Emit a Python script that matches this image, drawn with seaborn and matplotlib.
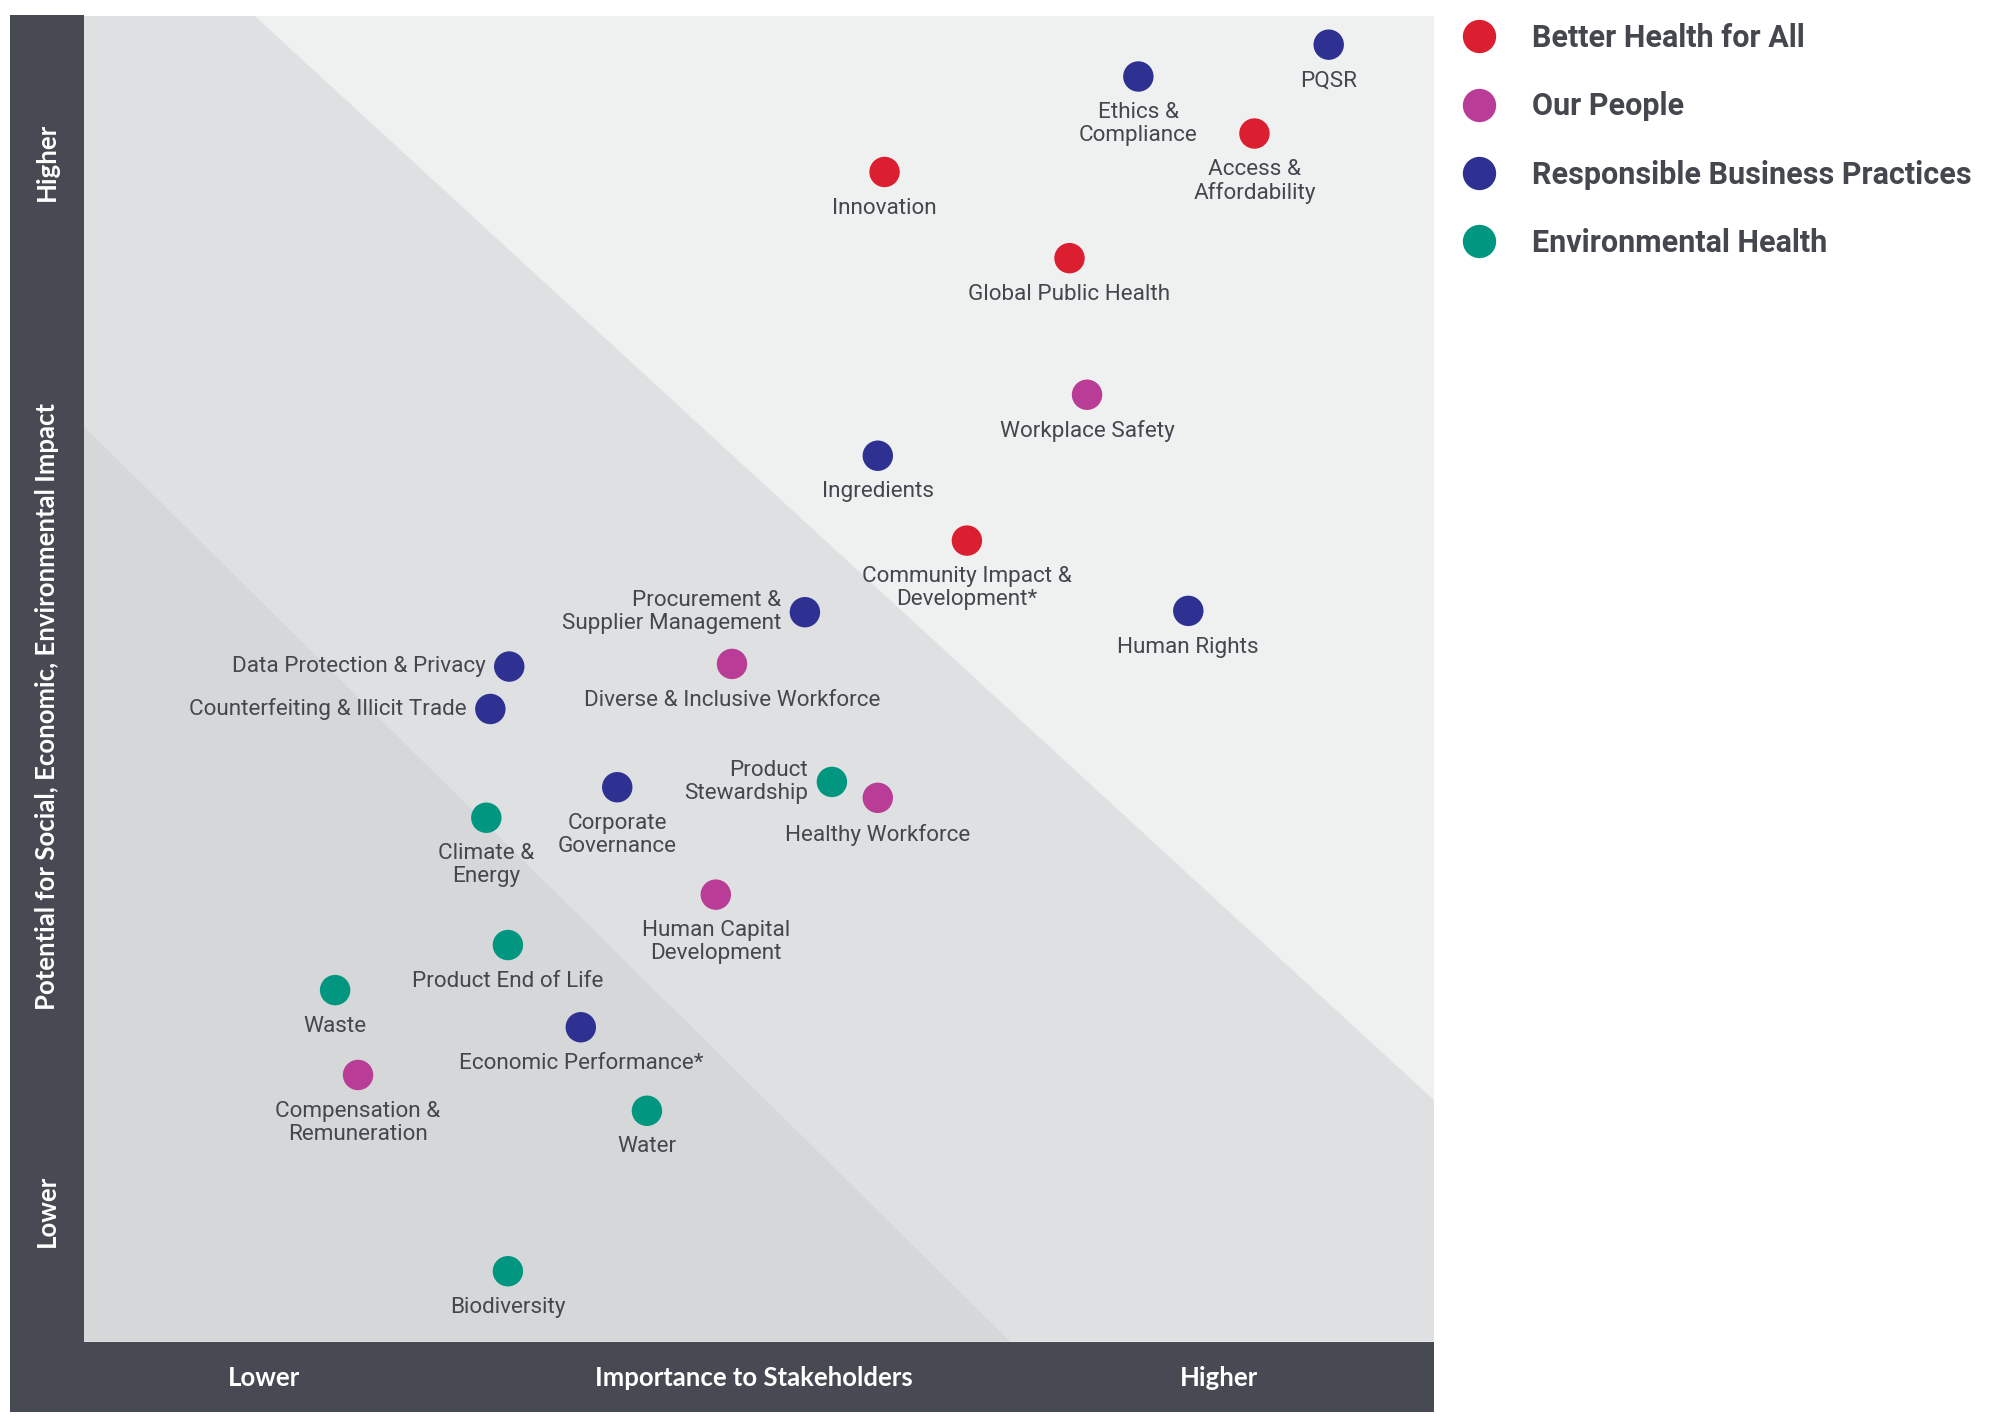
"""
Materiality matrix: importance to stakeholders vs potential impact
"""

import matplotlib

matplotlib.use("Agg")
import matplotlib.pyplot as plt
import pandas as pd
import seaborn as sns
from matplotlib.lines import Line2D

# Data (0-10 scale on both axes)
topics = [
    "PQSR", "Ethics &\nCompliance", "Access &\nAffordability", "Innovation",
    "Global Public Health", "Workplace Safety", "Ingredients",
    "Community Impact &\nDevelopment*", "Human Rights",
    "Procurement &\nSupplier Management", "Data Protection & Privacy",
    "Diverse & Inclusive Workforce", "Counterfeiting & Illicit Trade",
    "Corporate\nGovernance", "Product\nStewardship", "Healthy Workforce",
    "Climate &\nEnergy", "Human Capital\nDevelopment", "Product End of Life",
    "Waste", "Economic Performance*", "Compensation &\nRemuneration",
    "Water", "Biodiversity",
]
pillars = [
    "Responsible Business Practices", "Responsible Business Practices",
    "Better Health for All", "Better Health for All", "Better Health for All",
    "Our People", "Responsible Business Practices", "Better Health for All",
    "Responsible Business Practices", "Responsible Business Practices",
    "Responsible Business Practices", "Our People",
    "Responsible Business Practices", "Responsible Business Practices",
    "Environmental Health", "Our People", "Environmental Health", "Our People",
    "Environmental Health", "Environmental Health",
    "Responsible Business Practices", "Our People", "Environmental Health",
    "Environmental Health",
]
importance = [9.22, 7.81, 8.67, 5.93, 7.30, 7.43, 5.88, 6.54, 8.18, 5.34, 3.15,
              4.80, 3.01, 3.95, 5.54, 5.88, 2.98, 4.68, 3.14, 1.86, 3.68, 2.03,
              4.17, 3.14]
impact = [9.78, 9.54, 9.11, 8.82, 8.17, 7.14, 6.68, 6.04, 5.51, 5.50, 5.09,
          5.11, 4.77, 4.18, 4.22, 4.10, 3.95, 3.37, 2.99, 2.65, 2.37, 2.01,
          1.74, 0.53]
# where each label sits relative to its dot
label_side = ["below", "below", "below", "below", "below", "below", "below",
              "below", "below", "left", "left", "below", "left", "below",
              "left", "below", "below", "below", "below", "below", "below",
              "below", "below", "below"]

pillar_order = ["Better Health for All", "Our People",
                "Responsible Business Practices", "Environmental Health"]
pillar_colors = ["#dc1f30", "#b93c96", "#2e3191", "#00967f"]

# background zone boundaries
upper_zone = [(0, 0), (0, 10), (1.26, 10), (10, 1.82), (10, 0)]
lower_zone = [(0, 0), (0, 6.90), (6.86, 0)]

DARK = "#474a53"
TEXT = "#45474f"

sns.set_theme(style="white")
plt.rcParams["font.family"] = ["Roboto", "DejaVu Sans"]

df = pd.DataFrame(
    {"topic": topics, "pillar": pillars, "x": importance, "y": impact,
     "side": label_side}
)

W, H = 1990, 1423
fig = plt.figure(figsize=(W / 100, H / 100), dpi=100)

# dark frame bands
band_left = fig.add_axes([10 / W, 11.5 / H, 74 / W, 1396.5 / H])
band_bottom = fig.add_axes([10 / W, 11.5 / H, 1424 / W, 70 / H])
for band in (band_left, band_bottom):
    band.set_facecolor(DARK)
    band.set_xticks([])
    band.set_yticks([])
    for sp in band.spines.values():
        sp.set_visible(False)

ax = fig.add_axes([84 / W, 81.5 / H, 1350 / W, 1326 / H])
ax.set_facecolor("#eff0f0")
ax.fill(*zip(*upper_zone), color="#dfe0e2", lw=0, zorder=0)
ax.fill(*zip(*lower_zone), color="#d6d7d9", lw=0, zorder=0)

sns.scatterplot(
    data=df, x="x", y="y", hue="pillar", hue_order=pillar_order,
    palette=pillar_colors, s=480, edgecolor="none", legend=False, ax=ax,
    zorder=3,
)

for _, row in df.iterrows():
    if row["side"] == "left":
        ax.annotate(row["topic"], (row["x"], row["y"]), xytext=(-17, 0),
                    textcoords="offset points", ha="right", va="center",
                    multialignment="right", fontsize=16.2, color=TEXT,
                    linespacing=1.12)
    else:
        ax.annotate(row["topic"], (row["x"], row["y"]), xytext=(0, -18.5),
                    textcoords="offset points", ha="center", va="top",
                    multialignment="center", fontsize=16.2, color=TEXT,
                    linespacing=1.12)

ax.set_xlim(0, 10)
ax.set_ylim(0, 10)
ax.set_xticks([])
ax.set_yticks([])
ax.set_xlabel("")
ax.set_ylabel("")
for sp in ax.spines.values():
    sp.set_visible(False)

# axis captions inside the bands
cap = dict(color="white", fontweight="bold", fontsize=18.5,
           family=["Lato", "DejaVu Sans"], ha="center", va="center")
fig.text(47 / W, 1261.5 / H, "Higher", rotation=90, **cap)
fig.text(47 / W, 717 / H, "Potential for Social, Economic, Environmental Impact",
         rotation=90, **cap)
fig.text(47 / W, 212 / H, "Lower", rotation=90, **cap)
fig.text(264 / W, 45 / H, "Lower", **cap)
fig.text(754 / W, 45 / H, "Importance to Stakeholders", **cap)
fig.text(1219 / W, 45 / H, "Higher", **cap)

# legend
handles = [
    Line2D([0], [0], marker="o", linestyle="", markersize=24,
           markerfacecolor=c, markeredgecolor="none")
    for c in pillar_colors
]
leg = fig.legend(
    handles, pillar_order, loc="upper left",
    bbox_to_anchor=(1450 / W, 1 - 17 / H), frameon=False,
    prop={"size": 22, "weight": "bold"}, labelspacing=1.25,
    handletextpad=0.98, handlelength=1.5, borderpad=0.2, borderaxespad=0,
)
for t in leg.get_texts():
    t.set_color(TEXT)

fig.savefig("out.png", dpi=100)
